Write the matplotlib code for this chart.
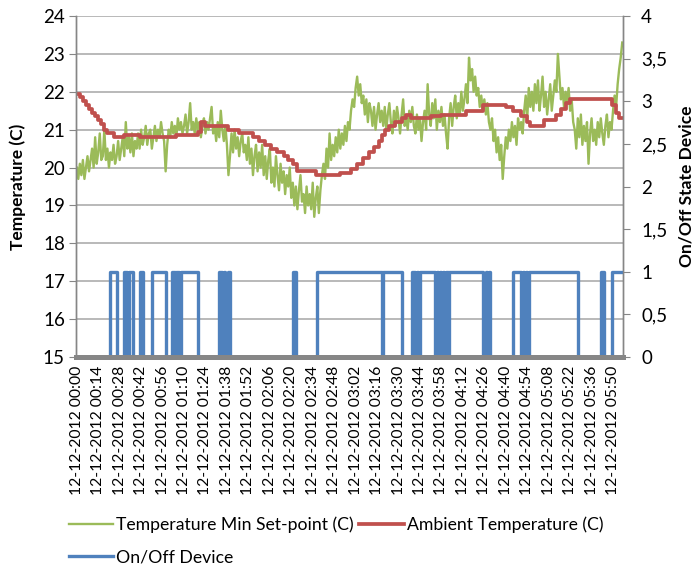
import numpy as np
import matplotlib
matplotlib.use("Agg")
import matplotlib.pyplot as plt
from matplotlib.ticker import FuncFormatter, MultipleLocator

plt.rcParams['font.family'] = ['Lato', 'DejaVu Sans']

# ---------------- data ----------------
date_str = "12-12-2012"
tick_times = ["00:00", "00:14", "00:28", "00:42", "00:56", "01:10", "01:24", "01:38",
              "01:52", "02:06", "02:20", "02:34", "02:48", "03:02", "03:16", "03:30",
              "03:44", "03:58", "04:12", "04:26", "04:40", "04:54", "05:08", "05:22",
              "05:36", "05:50"]
n_minutes = 357  # 00:00 .. 05:56, one category per minute

# Temperature Min Set-point (C), one value per minute
setpoint_temp = [
    20.0, 19.7, 20.1, 19.8, 20.2, 19.7, 20.0, 20.3, 19.9, 20.2, 20.5, 20.0, 20.8, 20.1, 20.4, 20.9, 20.2, 20.3, 21.0, 20.2,
    20.5, 20.0, 20.4, 20.2, 20.6, 20.1, 20.3, 20.7, 20.2, 20.5, 20.8, 20.3, 21.2, 20.5, 20.8, 20.4, 20.9, 20.3, 20.7, 20.5,
    20.9, 20.5, 21.0, 20.6, 20.8, 21.1, 20.6, 20.9, 21.0, 20.5, 20.8, 21.1, 20.7, 21.0, 20.8, 21.2, 20.9, 20.7, 19.9, 20.6,
    21.0, 20.8, 21.2, 20.9, 21.1, 20.8, 21.3, 21.0, 21.2, 20.9, 21.1, 21.4, 20.9, 21.2, 21.7, 21.0, 21.2, 20.9, 21.3, 21.0,
    21.2, 20.8, 21.1, 21.3, 20.9, 21.2, 21.0, 21.3, 21.6, 20.9, 21.1, 20.7, 21.2, 20.8, 21.5, 21.0, 20.7, 21.1, 20.6, 19.8,
    20.3, 20.9, 20.4, 21.0, 20.5, 20.8, 20.3, 20.7, 20.9, 20.4, 20.6, 20.2, 20.8, 20.1, 20.5, 19.8, 20.3, 20.6, 19.9, 20.4,
    20.0, 20.6, 19.8, 20.3, 19.7, 20.2, 20.5, 19.6, 20.0, 19.5, 20.3, 19.8, 19.4, 20.1, 19.6, 19.9, 19.3, 19.8, 19.5, 20.0,
    19.2, 19.6, 19.0, 19.5, 18.9, 19.4, 19.8, 19.1, 19.3, 18.8, 19.5, 19.0, 19.3, 18.9, 19.6, 18.7, 19.2, 19.5, 18.8, 19.4,
    19.8, 20.1, 19.7, 20.5, 20.0, 20.9, 20.2, 20.6, 20.3, 20.8, 20.4, 21.0, 20.5, 20.9, 20.6, 21.1, 20.7, 21.2, 21.0, 21.5,
    21.8, 21.6, 22.1, 22.4, 21.9, 22.2, 21.7, 21.9, 21.4, 21.8, 21.2, 21.7, 21.5, 21.1, 21.6, 21.0, 21.4, 21.7, 21.2, 21.5,
    21.1, 21.6, 21.0, 21.4, 21.7, 21.2, 20.9, 21.5, 21.1, 21.6, 21.3, 20.9, 21.4, 21.8, 21.1, 21.3, 21.0, 21.5, 21.2, 21.6,
    21.1, 20.9, 21.4, 21.0, 21.3, 20.7, 21.2, 21.5, 21.0, 22.2, 21.4, 21.1, 21.7, 21.3, 21.8, 21.0, 21.5, 21.2, 21.6, 21.1,
    21.4, 20.9, 20.5, 21.3, 21.7, 21.1, 21.6, 21.9, 21.3, 21.7, 21.4, 22.0, 21.5, 21.8, 22.2, 21.7, 22.9, 22.3, 22.6, 22.0,
    22.4, 21.9, 22.1, 21.6, 21.9, 21.5, 21.8, 21.4, 21.7, 21.2, 21.0, 21.3, 20.7, 21.0, 20.4, 20.8, 20.2, 20.6, 19.7, 20.3,
    20.8, 20.5, 21.0, 20.7, 21.2, 20.8, 21.1, 20.6, 21.3, 21.0, 21.2, 20.9, 21.5, 21.9, 21.3, 22.1, 21.6, 22.0, 21.5, 22.2,
    21.7, 22.3, 21.5, 21.9, 22.4, 21.6, 22.0, 21.4, 21.8, 22.2, 21.5, 21.9, 22.3, 22.0, 23.0, 22.4, 21.8, 22.1, 21.6, 22.0,
    21.7, 22.1, 21.5, 21.8, 21.2, 21.0, 20.5, 21.3, 20.8, 21.4, 20.6, 21.1, 20.7, 21.2, 20.1, 20.9, 21.3, 20.7, 21.0, 20.6,
    21.2, 20.8, 21.3, 20.9, 20.6, 21.1, 21.4, 20.8, 21.2, 21.0, 21.5, 21.9, 21.6, 22.2, 22.6, 22.9, 23.3,
]

# Ambient Temperature (C): minute at which a new value starts, and the value
ambient_minutes = [0, 2, 4, 6, 8, 10, 12, 14, 16, 18, 20, 24, 31, 41, 65, 79, 81, 84,
                   99, 106, 115, 119, 123, 127, 131, 135, 138, 141, 144, 156, 172, 179,
                   183, 187, 191, 194, 197, 199, 201, 204, 208, 212, 215, 218, 231, 238,
                   254, 265, 280, 285, 290, 294, 296, 305, 313, 316, 319, 322, 349, 352,
                   354]
ambient_temp = [21.95, 21.85, 21.75, 21.65, 21.55, 21.45, 21.35, 21.25, 21.15, 21.0,
                20.9, 20.8, 20.87, 20.8, 20.87, 20.95, 21.2, 21.1,
                21.0, 20.9, 20.8, 20.7, 20.6, 20.5, 20.4, 20.3, 20.2, 20.1, 19.9, 19.8,
                19.85, 19.95,
                20.1, 20.25, 20.4, 20.55, 20.7, 20.85, 21.0, 21.1, 21.2, 21.3, 21.4,
                21.3, 21.35, 21.4,
                21.5, 21.65, 21.6, 21.5, 21.35, 21.2, 21.1, 21.25, 21.4, 21.55, 21.7,
                21.8, 21.65, 21.45,
                21.3]

# On/Off Device: minutes where the device switches on / off
device_on = [22, 31, 34, 41, 49, 62, 65, 68, 93, 96, 99, 141, 157, 200, 219, 222, 224,
             235, 237, 239, 241, 243, 267, 269, 285, 291, 293, 295, 342, 349]
device_off = [26, 33, 37, 43, 58, 64, 67, 79, 95, 97, 100, 143, 199, 212, 221, 223, 234,
              236, 238, 240, 242, 265, 268, 270, 290, 292, 294, 327, 344, 358]

# ---------------- build series ----------------
setpoint_minutes = np.arange(len(setpoint_temp))
amb_x = list(ambient_minutes) + [n_minutes - 1]
amb_y = list(ambient_temp) + [ambient_temp[-1]]

dev_x, dev_y = [0], [0]
for s, e in zip(device_on, device_off):
    dev_x += [s, e]
    dev_y += [1, 0]

def minute_of(t):
    h, m = t.split(":")
    return int(h) * 60 + int(m)

tick_pos = [minute_of(t) for t in tick_times]
tick_labels = [f"{date_str} {t}" for t in tick_times]

# ---------------- figure ----------------
GREEN = "#9BBB59"
RED = "#C0504D"
BLUE = "#4F81BD"
AXIS = "#868686"
GRID = "#A6A6A6"

fig = plt.figure(figsize=(6.97, 5.70), dpi=100)
ax = fig.add_axes([76 / 697, 1 - 357 / 570, 547 / 697, 341 / 570])
ax.set_xlim(-0.5, n_minutes - 0.5)
ax.set_ylim(15, 24)
ax.yaxis.set_major_locator(MultipleLocator(1))
ax.yaxis.grid(True, color=GRID, lw=1.1)
ax.set_axisbelow(True)

l_g, = ax.plot(setpoint_minutes, setpoint_temp, color=GREEN, lw=1.7,
               label="Temperature Min Set-point (C)")
l_r, = ax.plot(amb_x, amb_y, color=RED, lw=2.7, drawstyle="steps-post",
               label="Ambient Temperature (C)")

ax2 = ax.twinx()
ax2.set_ylim(0, 4)
ax2.yaxis.set_major_locator(MultipleLocator(0.5))
l_b, = ax2.plot(dev_x, dev_y, color=BLUE, lw=2.4, drawstyle="steps-post",
                label="On/Off Device")
ax2.yaxis.set_major_formatter(FuncFormatter(
    lambda v, p: (f"{v:g}").replace(".", ",")))

for a in (ax, ax2):
    a.spines["top"].set_visible(False)
    a.spines["left"].set_color(AXIS)
    a.spines["right"].set_color(AXIS)
    a.spines["bottom"].set_color(AXIS)
    a.spines["bottom"].set_linewidth(3.6)
    a.spines["left"].set_linewidth(1.0)
    a.spines["right"].set_linewidth(1.0)

ax.set_xticks(tick_pos)
ax.set_xticklabels(tick_labels, rotation=90, fontsize=11.3)
ax.tick_params(axis="x", length=0, pad=6)
ax.tick_params(axis="y", direction="out", length=5, color=AXIS, labelsize=13.5, pad=3)
ax2.tick_params(axis="y", direction="out", length=5, color=AXIS, labelsize=13.5, pad=8)

ax.set_ylabel("Temperature (C)", fontsize=12.5, fontweight="bold", labelpad=12)
ax2.set_ylabel("On/Off State Device", fontsize=12.5, fontweight="bold", labelpad=8)

fig.legend(handles=[l_g, l_b, l_r], ncol=2, loc="upper left",
           bbox_to_anchor=(53 / 697, 1 - 501 / 570), frameon=False,
           fontsize=12.7, handlelength=2.5, handletextpad=0.2,
           columnspacing=0.3, labelspacing=0.9)

fig.savefig("out.png", dpi=100)
